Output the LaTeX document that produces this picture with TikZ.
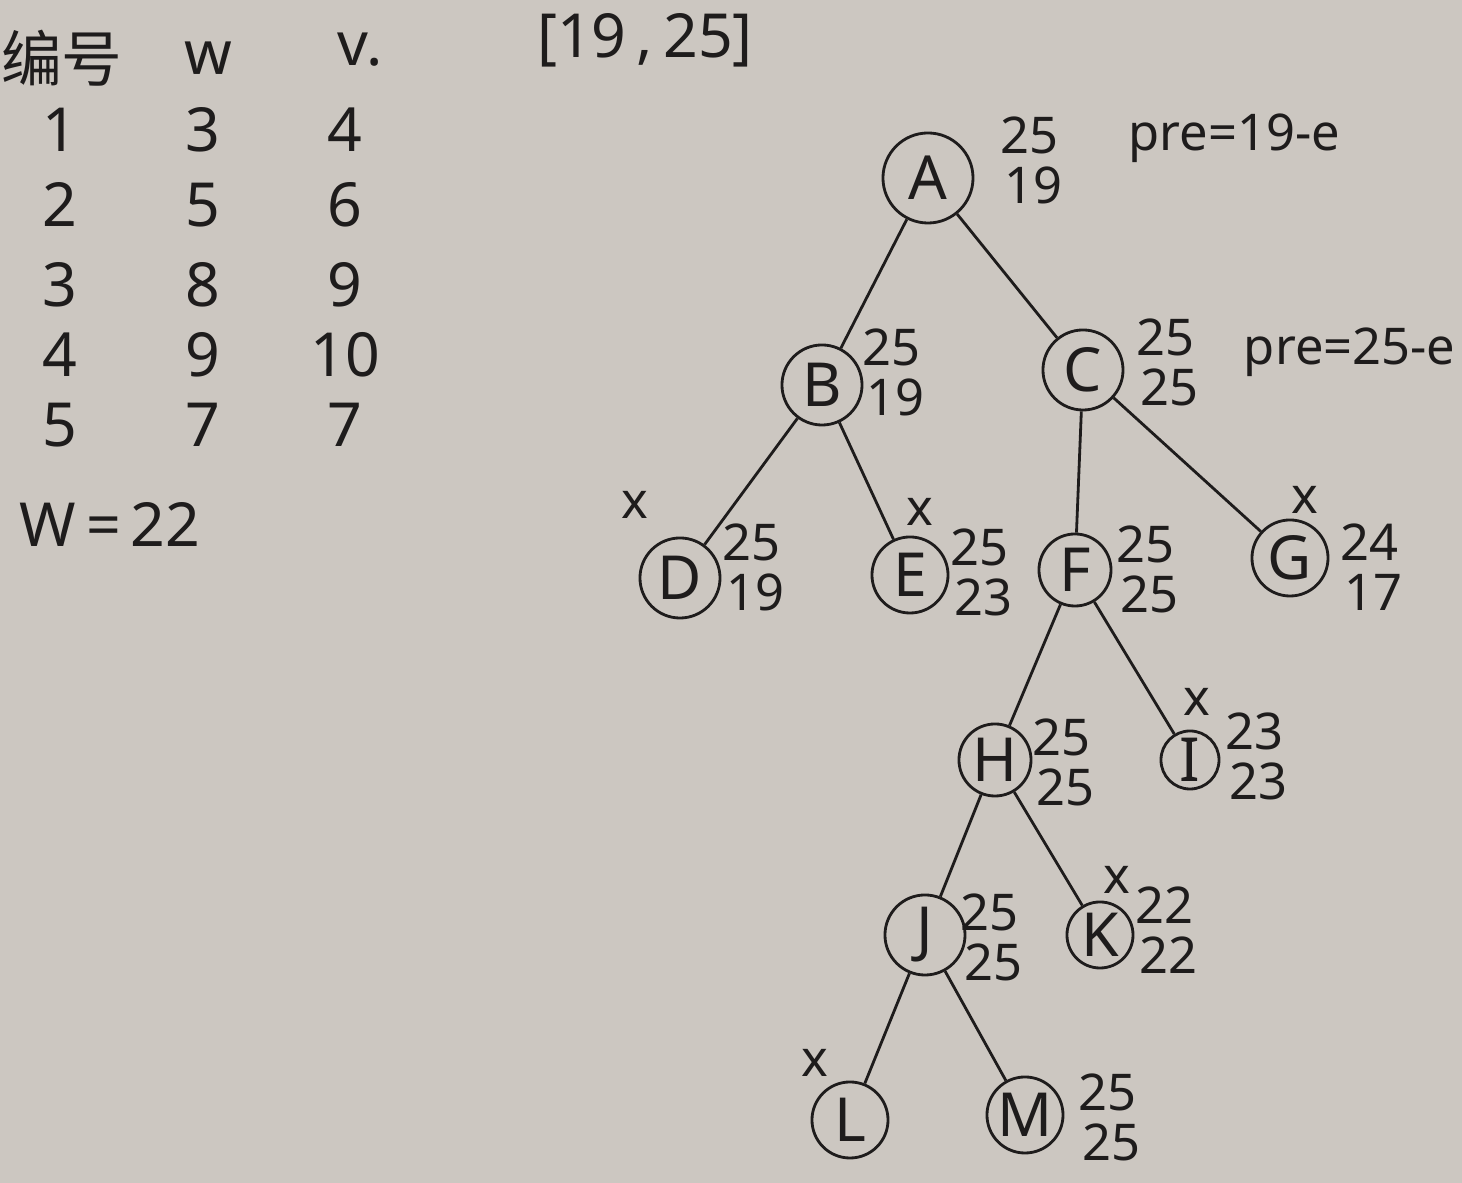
\documentclass[tikz,border=0pt]{standalone}
\usepackage{fontspec}
\setmainfont{Noto Sans}
\newfontfamily\cjk{Noto Sans CJK SC}
\usetikzlibrary{positioning}
\definecolor{paper}{RGB}{204,199,193}
\definecolor{ink}{RGB}{30,28,28}

\begin{document}
\begin{tikzpicture}[
    x=0.01cm, y=-0.01cm,
    every node/.style={text=ink},
    state/.style={circle, draw=ink, thick, minimum size=0.8cm, inner sep=0pt, font=\LARGE},
    small/.style={state, minimum size=0.66cm},
    val/.style={font=\Large, inner sep=0pt, anchor=west},
    cell/.style={font=\LARGE},
    note/.style={font=\Large, inner sep=0pt},
    cut/.style={font=\Large, inner sep=0pt},
    edge/.style={draw=ink, thick}
]
\fill[paper] (0,0) rectangle (1462,1183);
\useasboundingbox (0,0) rectangle (1462,1183);

% table
\node[cell] (hid) at (62,58) {\cjk 编号};
\node[cell] (hw) at (208,58) {w};
\node[cell] (hv) at (360,50) {v.};
\foreach \i/\w/\v/\y in {1/3/4/130, 2/5/6/205, 3/8/9/285, 4/9/10/355, 5/7/7/425} {
  \node[cell] (id\i) at (60,\y) {\i};
  \node[cell] (w\i) at (203,\y) {\w};
  \node[cell] (v\i) at (345,\y) {\v};
}
\node[cell] (cap) at (110,525) {W\,=\,22};
\node[cell] (range) at (645,40) {[19\,,\,25]};

% tree
\node[state, minimum size=0.9cm] (A) at (928,178) {A};
\node[state] (B) at (822,385) {B};
\node[state] (C) at (1083,370) {C};
\node[state] (D) at (680,578) {D};
\node[state, minimum size=0.76cm] (E) at (910,575) {E};
\node[state, minimum size=0.72cm] (F) at (1075,570) {F};
\node[state, minimum size=0.76cm] (G) at (1290,558) {G};
\node[state, minimum size=0.72cm] (H) at (995,760) {H};
\node[small, minimum size=0.58cm] (I) at (1190,760) {I};
\node[state] (J) at (925,935) {J};
\node[small] (K) at (1100,935) {K};
\node[state, minimum size=0.76cm] (L) at (850,1120) {L};
\node[state, minimum size=0.76cm] (M) at (1025,1115) {M};

\draw[edge] (A) -- (B);
\draw[edge] (A) -- (C);
\draw[edge] (B) -- (D);
\draw[edge] (B) -- (E);
\draw[edge] (C) -- (F);
\draw[edge] (C) -- (G);
\draw[edge] (F) -- (H);
\draw[edge] (F) -- (I);
\draw[edge] (H) -- (J);
\draw[edge] (H) -- (K);
\draw[edge] (J) -- (L);
\draw[edge] (J) -- (M);

% bounds
\foreach \n/\up/\lo/\x/\y in {A/25/19/1000/160, B/25/19/862/372, C/25/25/1136/362,
    D/25/19/722/567, E/25/23/950/572, F/25/25/1116/569, G/24/17/1340/567,
    H/25/25/1032/762, I/23/23/1225/756, J/25/25/960/937, K/22/22/1135/930,
    M/25/25/1078/1117} {
  \node[val] (up\n) at (\x,\y-25) {\up};
  \node[val] (lo\n) at (\x+4,\y+25) {\lo};
}

% pruned
\foreach \n/\x/\y in {D/635/505, E/920/512, G/1305/500, I/1197/702, K/1117/880, L/815/1063} {
  \node[cut] (x\n) at (\x,\y) {x};
}

\node[note, anchor=west] (preA) at (1128,138) {pre=19-e};
\node[note, anchor=east] (preC) at (1456,352) {pre=25-e};

\end{tikzpicture}
\end{document}
